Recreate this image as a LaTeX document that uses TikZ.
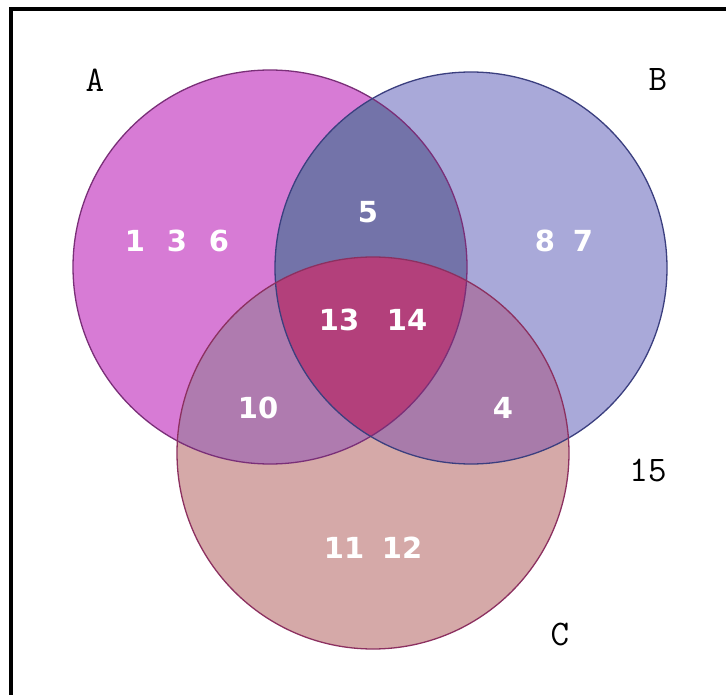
\documentclass[tikz,border=0pt]{standalone}
\usepackage{fontspec}
\newfontfamily\numfont{DejaVu Sans}
\definecolor{colA}{HTML}{D77BD5}
\definecolor{colB}{HTML}{A9A9D9}
\definecolor{colC}{HTML}{D5A9A8}
\definecolor{colAB}{HTML}{7373A9}
\definecolor{colAC}{HTML}{AF7BAF}
\definecolor{colBC}{HTML}{A87BAA}
\definecolor{colABC}{HTML}{B3407B}
\definecolor{lineA}{HTML}{7A2F78}
\definecolor{lineB}{HTML}{3B3F7F}
\definecolor{lineC}{HTML}{8C3060}
\tikzset{
  num/.style={text=white, font=\numfont\bfseries\fontsize{29}{30}\selectfont, inner sep=0pt},
  setlabel/.style={text=black, font=\ttfamily\fontsize{36}{38}\selectfont, inner sep=0pt},
  frameline/.style={line width=4pt, black}
}
\begin{document}
\begin{tikzpicture}[x=1pt,y=-1pt]
\useasboundingbox (0,0) rectangle (726,695);
\fill[white] (0,0) rectangle (726,695);
\coordinate (cA) at (270,267);
\coordinate (cB) at (471,268);
\coordinate (cC) at (373,453);
% single regions
\fill[colA] (cA) circle[radius=197];
\fill[colB] (cB) circle[radius=196];
\fill[colC] (cC) circle[radius=196];
% pairwise intersections
\begin{scope}\clip (cA) circle[radius=197]; \fill[colAB] (cB) circle[radius=196];\end{scope}
\begin{scope}\clip (cA) circle[radius=197]; \fill[colAC] (cC) circle[radius=196];\end{scope}
\begin{scope}\clip (cB) circle[radius=196]; \fill[colBC] (cC) circle[radius=196];\end{scope}
\begin{scope}\clip (cA) circle[radius=197]; \clip (cB) circle[radius=196]; \fill[colABC] (cC) circle[radius=196];\end{scope}
% outlines
\draw[lineA, line width=1.3pt] (cA) circle[radius=197];
\draw[lineB, line width=1.3pt] (cB) circle[radius=196];
\draw[lineC, line width=1.3pt] (cC) circle[radius=196];
% numbers
\node[num] (n1) at (135,241) {1};
\node[num] (n3) at (177,241) {3};
\node[num] (n6) at (219,241) {6};
\node[num] (n5) at (368,212) {5};
\node[num] (n8) at (545,241) {8};
\node[num] (n7) at (583,241) {7};
\node[num] (n13) at (339,320) {13};
\node[num] (n14) at (407,320) {14};
\node[num] (n10) at (258,408) {10};
\node[num] (n4) at (503,408) {4};
\node[num] (n11) at (344,548) {11};
\node[num] (n12) at (402,548) {12};
\node[setlabel] (n15) at (648,471) {15};
% set labels
\node[setlabel] (lA) at (95,80) {A};
\node[setlabel] (lB) at (658,80) {B};
\node[setlabel] (lC) at (560,634) {C};
% frame (top and left only)
\draw[frameline] (9,9.2) -- (726,9.2);
\draw[frameline] (11,7.2) -- (11,695);
\end{tikzpicture}
\end{document}
